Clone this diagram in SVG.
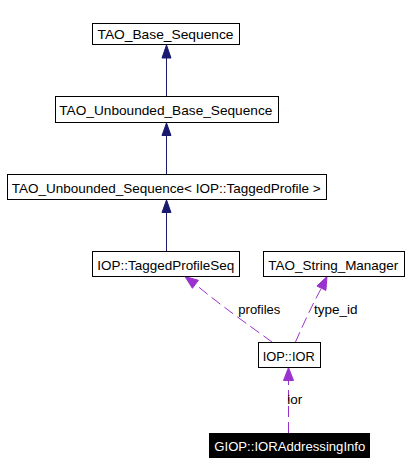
<svg xmlns="http://www.w3.org/2000/svg" width="411" height="475" viewBox="0 0 411 475">
<style>
.box{fill:#ffffff;stroke:#000000;stroke-width:1}
.hl{fill:#000000;stroke:#000000;stroke-width:1}
.lbl{font-family:"Liberation Sans",Arial,Helvetica,sans-serif;font-size:13px;fill:#000000}
.wl{font-family:"Liberation Sans",Arial,Helvetica,sans-serif;font-size:13px;fill:#ffffff}
.inh{fill:none;stroke:#191970;stroke-width:1}
.inhh{fill:#191970;stroke:#191970;stroke-width:1}
.use{fill:none;stroke:#9a32cd;stroke-width:1;stroke-dasharray:11,5}
.useh{fill:#9a32cd;stroke:#9a32cd;stroke-width:1}
</style>
<rect width="411" height="475" fill="#ffffff"/>
<g id="connectors">
<g id="e_unb_base">
<line class="inh" x1="166.5" y1="96" x2="166.5" y2="58"/>
<polygon class="inhh" points="166.5,45 162,58 171,58"/>
</g>
<g id="e_unbseq_unbbase">
<line class="inh" x1="166.5" y1="174" x2="166.5" y2="135.5"/>
<polygon class="inhh" points="166.5,123 162,135.5 171,135.5"/>
</g>
<g id="e_tps_unbseq">
<line class="inh" x1="166.5" y1="252" x2="166.5" y2="212.5"/>
<polygon class="inhh" points="166.5,200 162,212.5 171,212.5"/>
</g>
<g id="e_profiles">
<path class="use" d="M272,342 C250,326 220,305 195.4,284.3"/>
<polygon class="useh" points="185,276.5 198.4,280.3 192.4,288.3"/>
<text class="lbl" x="238.3" y="314" textLength="42" lengthAdjust="spacingAndGlyphs">profiles</text>
</g>
<g id="e_type_id">
<path class="use" d="M295.5,342 C303,325 312,305 321.4,288.2"/>
<polygon class="useh" points="327,276.5 325.9,290.4 316.9,286"/>
<text class="lbl" x="314" y="314" textLength="43.5" lengthAdjust="spacingAndGlyphs">type_id</text>
</g>
<g id="e_ior">
<line class="use" x1="288.5" y1="433" x2="288.5" y2="380.5"/>
<polygon class="useh" points="288.5,367.5 283.5,380.5 293.5,380.5"/>
<text class="lbl" x="287.3" y="404" textLength="15" lengthAdjust="spacingAndGlyphs">ior</text>
</g>
</g>
<g id="n_tao_base_sequence">
<rect class="box" x="92.5" y="23.5" width="147" height="21"/>
<text class="lbl" x="97.5" y="38.5" textLength="136" lengthAdjust="spacingAndGlyphs">TAO_Base_Sequence</text>
</g>
<g id="n_tao_unbounded_base_sequence">
<rect class="box" x="55.5" y="96.5" width="223" height="26"/>
<text class="lbl" x="59.3" y="115" textLength="213" lengthAdjust="spacingAndGlyphs">TAO_Unbounded_Base_Sequence</text>
</g>
<g id="n_tao_unbounded_sequence">
<rect class="box" x="7.5" y="174.5" width="319" height="25"/>
<text class="lbl" x="11.7" y="192.5" textLength="309" lengthAdjust="spacingAndGlyphs">TAO_Unbounded_Sequence&lt; IOP::TaggedProfile &gt;</text>
</g>
<g id="n_tagged_profile_seq">
<rect class="box" x="92.5" y="251.5" width="147" height="25"/>
<text class="lbl" x="97.3" y="270" textLength="137" lengthAdjust="spacingAndGlyphs">IOP::TaggedProfileSeq</text>
</g>
<g id="n_tao_string_manager">
<rect class="box" x="263.5" y="251.5" width="141" height="25"/>
<text class="lbl" x="268.3" y="270" textLength="130" lengthAdjust="spacingAndGlyphs">TAO_String_Manager</text>
</g>
<g id="n_iop_ior">
<rect class="box" x="258.5" y="342.5" width="62" height="25"/>
<text class="lbl" x="262.7" y="360.5" textLength="52" lengthAdjust="spacingAndGlyphs">IOP::IOR</text>
</g>
<g id="n_giop_ioraddressinginfo">
<rect class="hl" x="209.5" y="433.5" width="160" height="24"/>
<text class="wl" x="214.3" y="451" textLength="151" lengthAdjust="spacingAndGlyphs">GIOP::IORAddressingInfo</text>
</g>
</svg>
